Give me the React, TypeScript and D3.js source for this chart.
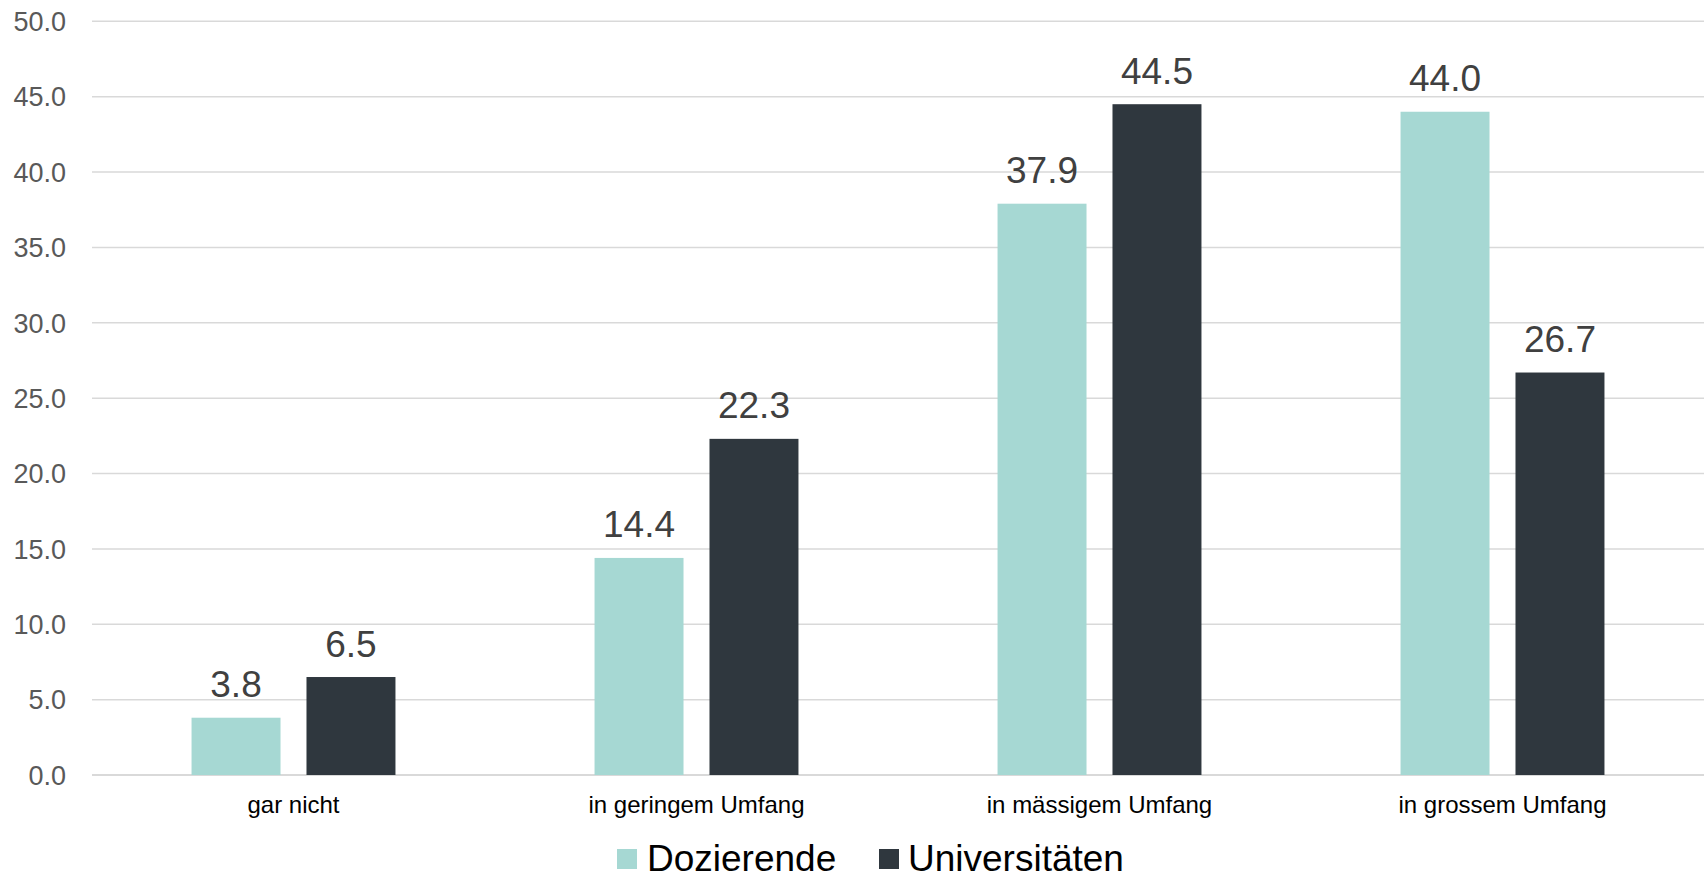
import React, { useEffect, useRef } from "react";
import * as d3 from "d3";

const categories = ["gar nicht", "in geringem Umfang", "in mässigem Umfang", "in grossem Umfang"];
const seriesNames = ["Dozierende", "Universitäten"];
const dozierende = [3.8, 14.4, 37.9, 44.0];
const universitaeten = [6.5, 22.3, 44.5, 26.7];
const yTicks = [0, 5, 10, 15, 20, 25, 30, 35, 40, 45, 50];
const colors = ["#A6D8D3", "#2F373E"];

const W = 1708;
const H = 879;
const FONT = "'Liberation Sans', Arial, sans-serif";

export default function App() {
  const ref = useRef<SVGSVGElement | null>(null);

  useEffect(() => {
    document.body.style.margin = "0";
    const svg = d3.select(ref.current);
    svg.selectAll("*").remove();

    const left = 92, right = 1704, top = 21.3, bottom = 775;
    const y = d3.scaleLinear().domain([0, 50]).range([bottom, top]);
    const x0 = d3.scaleBand<string>().domain(categories).range([left, right]).paddingInner(0.494).paddingOuter(0.247);
    const x1 = d3.scaleBand<string>().domain(seriesNames).range([0, x0.bandwidth()]).paddingInner(0.226).paddingOuter(0);

    // grid
    svg.append("g").selectAll("line").data(yTicks).join("line")
      .attr("x1", left).attr("x2", right)
      .attr("y1", (d) => y(d)).attr("y2", (d) => y(d))
      .attr("stroke", "#D9D9D9").attr("stroke-width", (d) => (d === 0 ? 2 : 1.5));

    // y tick labels
    svg.append("g").selectAll("text").data(yTicks).join("text")
      .attr("x", 66).attr("y", (d) => y(d)).attr("dy", "0.36em")
      .attr("text-anchor", "end").attr("font-family", FONT).attr("font-size", 27)
      .attr("fill", "#595959").text((d) => d3.format(".1f")(d));

    const series = [dozierende, universitaeten];
    series.forEach((vals, si) => {
      const g = svg.append("g");
      g.selectAll("rect").data(vals).join("rect")
        .attr("x", (_, i) => (x0(categories[i]) as number) + (x1(seriesNames[si]) as number))
        .attr("width", x1.bandwidth())
        .attr("y", (d) => y(d))
        .attr("height", (d) => bottom - y(d))
        .attr("fill", colors[si]);
      g.selectAll("text").data(vals).join("text")
        .attr("x", (_, i) => (x0(categories[i]) as number) + (x1(seriesNames[si]) as number) + x1.bandwidth() / 2)
        .attr("y", (d) => y(d) - 20.5)
        .attr("text-anchor", "middle").attr("font-family", FONT).attr("font-size", 37)
        .attr("fill", "#404040").text((d) => d3.format(".1f")(d));
    });

    // category labels
    svg.append("g").selectAll("text").data(categories).join("text")
      .attr("x", (d) => (x0(d) as number) + x0.bandwidth() / 2)
      .attr("y", 813).attr("text-anchor", "middle")
      .attr("font-family", FONT).attr("font-size", 24).attr("fill", "#000")
      .text((d) => d);

    // legend
    const legendX = [617, 879];
    const textX = [647, 908];
    const lg = svg.append("g");
    seriesNames.forEach((name, i) => {
      lg.append("rect").attr("x", legendX[i]).attr("y", 849).attr("width", 20).attr("height", 20).attr("fill", colors[i]);
      lg.append("text").attr("x", textX[i]).attr("y", 871).attr("font-family", FONT).attr("font-size", 37)
        .attr("fill", "#000").text(name);
    });
  }, []);

  return <svg ref={ref} width={W} height={H} style={{ display: "block", background: "#fff" }} />;
}
